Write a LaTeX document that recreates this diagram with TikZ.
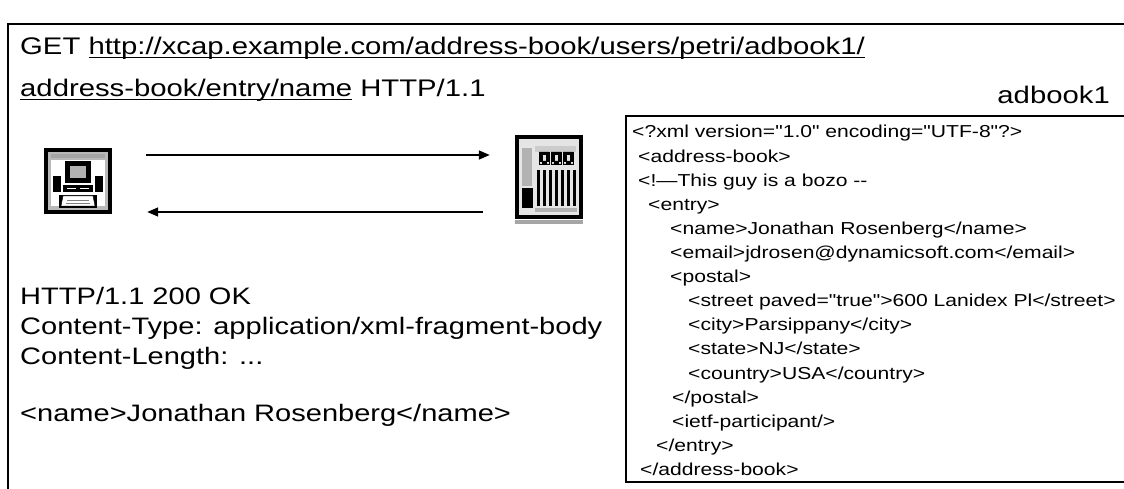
\documentclass[tikz,border=0pt]{standalone}
\usepackage{fontspec}
\setmainfont{Liberation Sans}[FakeStretch=1.22]
\newfontfamily\codefont{Liberation Sans}[Ligatures=TeXOff, FakeStretch=1.22]
\usepackage{tikz}
\usetikzlibrary{arrows.meta}

\newcommand\ulinetext[1]{\setbox0=\hbox{#1}\rlap{\rule[-3.2pt]{\wd0}{1.1pt}}\box0{}}

\begin{document}
\begin{tikzpicture}[x=1pt, y=-1pt,
    txt/.style={anchor=base west, inner sep=0pt, font=\fontsize{23.8}{30}\selectfont},
    hdr/.style={txt, font=\fontsize{24}{30}\selectfont},
    xml/.style={anchor=base west, inner sep=0pt, font=\codefont\fontsize{17.3}{20}\selectfont},
    msg/.style={line width=1.4pt, -{Triangle[length=11pt, width=9pt]}},
    icon/.style={minimum width=#1, inner sep=0pt}]
        \useasboundingbox (0,0) rectangle (1124,489);

        \draw[line width=1.6pt] (8,489) -- (8,24) -- (1124,24);

        \node[hdr] (get) at (20,55)
            {GET \ulinetext{http://xcap.example.com/address-book/users/petri/adbook1/}};
        \node[hdr] (uri) at (20,97)
            {\ulinetext{address-book/entry/name} HTTP/1.1};
        \node[hdr, anchor=base east] (doc) at (1110,104) {adbook1};

        \node[icon=68pt, minimum height=66pt] (pc) at (78,181) {};
        \node[icon=68pt, minimum height=86pt] (srv) at (549,178) {};

        \begin{scope}[shift={(pc.center)}]
            \fill[black] (-34,-33) rectangle (34,33);
            \fill[gray!55] (-30,-29) rectangle (30,29);
            \fill[white] (-27,-21) rectangle (27,25);
            \fill[gray!70] (-27,-27) rectangle (27,-23);
            \fill[black] (-13,-20) rectangle (13,2);
            \fill[gray!60] (-8,-15) rectangle (8,-3);
            \fill[black] (-25,-5) rectangle (-17,11);
            \fill[black] (17,-5) rectangle (25,11);
            \fill[black] (-15,4) rectangle (15,11);
            \draw[white, line width=0.8pt] (-11,7.5) -- (-2,7.5) (2,7.5) -- (11,7.5);
            \fill[black] (-19,14) rectangle (19,27);
            \filldraw[fill=white, draw=black] (-15,15) -- (15,15) -- (17,25) -- (-17,25) -- cycle;
            \draw[gray, line width=0.8pt] (-11,19) -- (11,19) (-12,22) -- (12,22);
        \end{scope}

        \begin{scope}[shift={(srv.center)}]
            \fill[gray!70] (-34,42) rectangle (34,46);
            \fill[black] (-34,-43) rectangle (34,41);
            \fill[gray!20] (-30,-39) rectangle (30,37);
            \fill[gray!60] (-27,-30) rectangle (-17,8);
            \fill[black] (-27,10) rectangle (-16,30);
            \fill[gray!40] (-14,-32) rectangle (27,-26);
            \foreach \u in {-10,2,14}
                \filldraw[fill=black] (\u,-24) rectangle ++(10,-2) (\u,-24) rectangle ++(3,10)
                    (\u,-14) rectangle ++(10,-3) (\u+7,-24) rectangle ++(3,10);
            \foreach \b in {-12,-6,0,6,12,18,24}
                \fill[black] (\b,-8) rectangle ++(3,36);
            \fill[gray!60] (-14,30) rectangle (28,34);
        \end{scope}

        \draw[msg, shorten <=34pt, shorten >=25pt] ([yshift=26pt]pc.east) -- ([yshift=23pt]srv.west);
        \draw[msg, shorten <=32pt, shorten >=35pt] ([yshift=-34pt]srv.west) -- ([yshift=-31pt]pc.east);

        \node[txt] (status) at (20,304) {HTTP/1.1 200 OK};
        \node[txt] (ctype) at (20,334) {Content-Type: application/xml-fragment-body};
        \node[txt] (clen) at (20,364) {Content-Length: ...};
        \node[txt] (body) at (20,421) {<name>Jonathan Rosenberg</name>};

        \draw[line width=1.3pt] (1124,116) -- (626,116) -- (626,482) -- (1124,482);

        \node[xml] (x1) at (632,138) {<?xml version="1.0" encoding="UTF-8"?>};
        \node[xml] (x2) at (638,162.1) {<address-book>};
        \node[xml] (x3) at (638,186.2) {<!—This guy is a bozo --};
        \node[xml] (x4) at (648,210.3) {<entry>};
        \node[xml] (x5) at (670,234.4) {<name>Jonathan Rosenberg</name>};
        \node[xml] (x6) at (670,258.5) {<email>jdrosen@dynamicsoft.com</email>};
        \node[xml] (x7) at (670,282.6) {<postal>};
        \node[xml] (x8) at (688,306.7) {<street paved="true">600 Lanidex Pl</street>};
        \node[xml] (x9) at (688,330.8) {<city>Parsippany</city>};
        \node[xml] (x10) at (688,354.9) {<state>NJ</state>};
        \node[xml] (x11) at (688,379) {<country>USA</country>};
        \node[xml] (x12) at (672,403.1) {</postal>};
        \node[xml] (x13) at (672,427.2) {<ietf-participant/>};
        \node[xml] (x14) at (656,451.3) {</entry>};
        \node[xml] (x15) at (640,475.4) {</address-book>};
\end{tikzpicture}
\end{document}
